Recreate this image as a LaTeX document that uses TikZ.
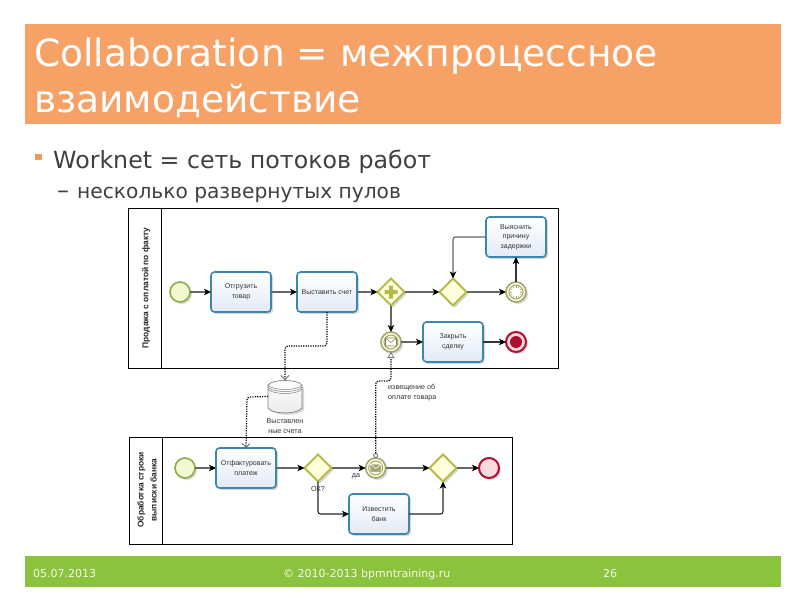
\documentclass[tikz,border=0pt]{standalone}
\usepackage{fontspec}
\setmainfont{DejaVu Sans}
\newfontfamily\lib{Liberation Sans}
\usetikzlibrary{shapes.geometric,arrows.meta,shadows,calc}
\definecolor{titlebg}{HTML}{F6A166}
\definecolor{footbg}{HTML}{8CC33C}
\definecolor{bodytxt}{HTML}{404040}
\definecolor{bull}{HTML}{F29A5C}
\definecolor{taskline}{HTML}{3C88AC}
\definecolor{taskfill}{HTML}{E2EAF8}
\definecolor{startline}{HTML}{8DB04A}
\definecolor{startfill}{HTML}{F3F8D2}
\definecolor{gwline}{HTML}{B8B84A}
\definecolor{gwfill}{HTML}{FFFFDC}
\definecolor{evline}{HTML}{A5A570}
\definecolor{endline}{HTML}{AE0F2E}
\definecolor{endfill}{HTML}{F9D9DC}
\definecolor{flow}{HTML}{666666}
\tikzset{
  softshadow/.style={drop shadow={shadow xshift=2pt,shadow yshift=-2pt,opacity=0.25,fill=black!60}},
  titletxt/.style={anchor=base west,inner sep=0,text=white,font=\fontsize{37.6}{37.6}\selectfont},
  lvlone/.style={anchor=base west,inner sep=0,text=bodytxt,font=\fontsize{23.7}{24}\selectfont},
  lvltwo/.style={anchor=base west,inner sep=0,text=bodytxt,font=\fontsize{20.2}{20}\selectfont},
  foot/.style={anchor=base west,inner sep=0,text=white!90!footbg,font=\fontsize{11}{11}\selectfont},
  pool/.style={draw=black,line width=1pt,fill=white},
  poolname/.style={rotate=90,align=center,inner sep=0,text=black!85,font=\lib\bfseries\fontsize{8.4}{13}\selectfont},
  task/.style={draw=taskline,line width=1.6pt,rounded corners=3.5pt,top color=white,bottom color=taskfill,
    minimum width=60pt,minimum height=40pt,inner sep=0,outer sep=0,align=center,text=black!80,
    font=\lib\fontsize{7}{9.5}\selectfont,softshadow},
  startev/.style={circle,draw=startline,line width=1.7pt,fill=startfill,minimum size=20pt,inner sep=0,outer sep=0,softshadow},
  endev/.style={circle,draw=endline,line width=2pt,fill=endfill,minimum size=20pt,inner sep=0,outer sep=0,softshadow},
  interev/.style={circle,draw=evline,line width=1.6pt,fill=gwfill,minimum size=20pt,inner sep=0,outer sep=0,softshadow},
  gateway/.style={diamond,aspect=1,draw=gwline,line width=1.8pt,fill=gwfill,minimum size=27pt,inner sep=0,outer sep=0,softshadow},
  seqflow/.style={draw=flow,line width=1.1pt,rounded corners=2.5pt,-{Stealth[length=7pt,width=6.5pt,inset=1.8pt,black]}},
  msgflow/.style={draw=black,line width=1.2pt,dash pattern=on 1.2pt off 1.2pt,rounded corners=3pt},
  small/.style={inner sep=0,align=center,text=black!80,font=\lib\fontsize{7.2}{9.5}\selectfont},
}
\begin{document}
\begin{tikzpicture}[x=1pt,y=-1pt]
\useasboundingbox (0,0) rectangle (800,600);
\fill[white] (0,0) rectangle (800,600);
% slide frame
\fill[titlebg] (25,24) rectangle (781,124);
\node[titletxt] (title1) at (34,66) {Collaboration = межпроцессное};
\node[titletxt] (title2) at (34,112) {взаимодействие};
\fill[bull] (35,154) rectangle (42,160);
\node[lvlone] (l1) at (53,168) {Worknet = сеть потоков работ};
\node[lvltwo,font=\fontsize{24}{24}\selectfont] (l2dash) at (57,198) {–};
\node[lvltwo] (l2) at (77,198) {несколько развернутых пулов};
\fill[footbg] (25,556) rectangle (781,587);
\node[foot] (f1) at (33,577) {05.07.2013};
\node[foot] (f2) at (283,577) {© 2010-2013 bpmntraining.ru};
\node[foot] (f3) at (603,577) {26};
% pools
\draw[pool] (128.5,208.5) rectangle (558,368.5);
\draw[black,line width=1pt] (161.5,208.5) -- (161.5,368.5);
\node[poolname] (p1) at (146,288) {Продажа с оплатой по факту};
\draw[pool] (129.5,437.5) rectangle (512.5,544.5);
\draw[black,line width=1pt] (162.5,437.5) -- (162.5,544.5);
\node[poolname] (p2) at (147,490) {Обработка строки\\выписки банка};
% pool 1 nodes
\node[startev] (s1) at (180,292) {};
\node[task] (t1) at (241,292) {Отгрузить\\товар};
\node[task] (t2) at (327,292) {Выставить счет};
\node[gateway] (g1) at (391,292) {};
\fill[gwline] (389,285.5) rectangle (393,298.5) (384.5,290) rectangle (397.5,294);
\node[gateway] (g2) at (453,292) {};
\node[interev] (tm) at (516,292) {};
\draw[evline,line width=1pt,fill=white] (tm) circle (7pt);
\foreach \a in {0,30,...,330} \draw[evline,line width=0.5pt] ($(tm)+(\a:4.3pt)$) -- ($(tm)+(\a:6.4pt)$);
\node[task] (t3) at (516,237) {Выяснить\\причину\\задержки};
\node[interev] (m1) at (391,342) {};
\draw[evline,line width=1pt] (m1) circle (7pt);
\draw[evline!80!black,line width=0.6pt,fill=white] (385.5,338) rectangle (396.5,346) (385.5,338) -- (391,342.5) -- (396.5,338);
\node[task] (t4) at (453,342) {Закрыть\\сделку};
\node[endev] (e1) at (516,342) {};
\fill[endline] (e1) circle (6pt);
% data store
\fill[black!25,opacity=0.6] (270,387) -- (270,410) .. controls (275,416.5) and (299,416.5) .. (304,410) -- (304,387) -- cycle;
\draw[black!50,line width=0.7pt,top color=white,bottom color=black!8]
  (268,385) .. controls (272,379) and (298,379) .. (302,385) -- (302,408)
  .. controls (298,414.5) and (272,414.5) .. (268,408) -- cycle;
\foreach \d in {0,2,4} \draw[black!50,line width=0.5pt] (268,385+\d) .. controls (272,391+\d) and (298,391+\d) .. (302,385+\d);
\node[inner sep=0,outer sep=0,minimum width=34pt,minimum height=33pt] (ds) at (285,396.5) {};
\node[small] (dsl) at (285,426) {Выставлен\\ные счета};
% pool 2 nodes
\node[startev] (s2) at (185,468) {};
\node[task] (t5) at (246,468) {Отфактуровать\\платеж};
\node[gateway] (g3) at (318,468) {};
\node[small] (okl) at (318,489) {ОК?};
\node[interev] (m2) at (375.7,468) {};
\draw[evline,line width=1pt] (m2) circle (7pt);
\draw[white,line width=0.5pt,fill=evline] (370.2,464) rectangle (381.2,472) (370.2,464) -- (375.7,468.5) -- (381.2,464);
\node[small] (dal) at (356,476.5) {да};
\node[task] (t6) at (379,514) {Известить\\банк};
\node[gateway] (g4) at (443,468) {};
\node[endev] (e2) at (489,468) {};
\node[small,align=left,anchor=north west] (ml) at (388,384.5) {извещение об\\оплате товара};
% sequence flows
\draw[seqflow] (s1) -- (t1);
\draw[seqflow] (t1) -- (t2);
\draw[seqflow] (t2) -- (g1);
\draw[seqflow] (g1) -- (g2);
\draw[seqflow] (g2) -- (tm);
\draw[seqflow,draw=black!80] (tm) -- (t3);
\draw[seqflow] (t3.west) -| (g2.north);
\draw[seqflow] (g1) -- (m1);
\draw[seqflow] (m1) -- (t4);
\draw[seqflow,draw=black!80] (t4) -- (e1);
\draw[seqflow] (s2) -- (t5);
\draw[seqflow] (t5) -- (g3);
\draw[seqflow] (g3) -- (m2);
\draw[seqflow] (m2) -- (g4);
\draw[seqflow] (g4) -- (e2);
\draw[seqflow,draw=black!85] (g3.south) |- (t6.west);
\draw[seqflow,draw=black!85] (t6.east) -| (g4.south);
% message flows and associations
\coordinate (b1) at (285,346);
\coordinate (b2) at (247,397);
\coordinate (b3) at (375.7,381);
\coordinate (b4) at (391,381);
\draw[msgflow,-{Straight Barb[length=4pt,width=8pt,black!60,line width=0.8pt]}] (t2.south) |- (b1) -- (ds.north);
\draw[msgflow,-{Straight Barb[length=4pt,width=8pt,black!60,line width=0.8pt]}] (ds.west) -- (b2) -- (t5.north);
\draw[msgflow,{Circle[open,length=5pt,width=5pt,black!60,fill=white,line width=0.8pt]}-{Triangle[open,length=6pt,width=7pt,black!55,fill=white,line width=0.8pt]}] (m2.north) -- (b3) -- (b4) -- (m1.south);
\end{tikzpicture}
\end{document}
